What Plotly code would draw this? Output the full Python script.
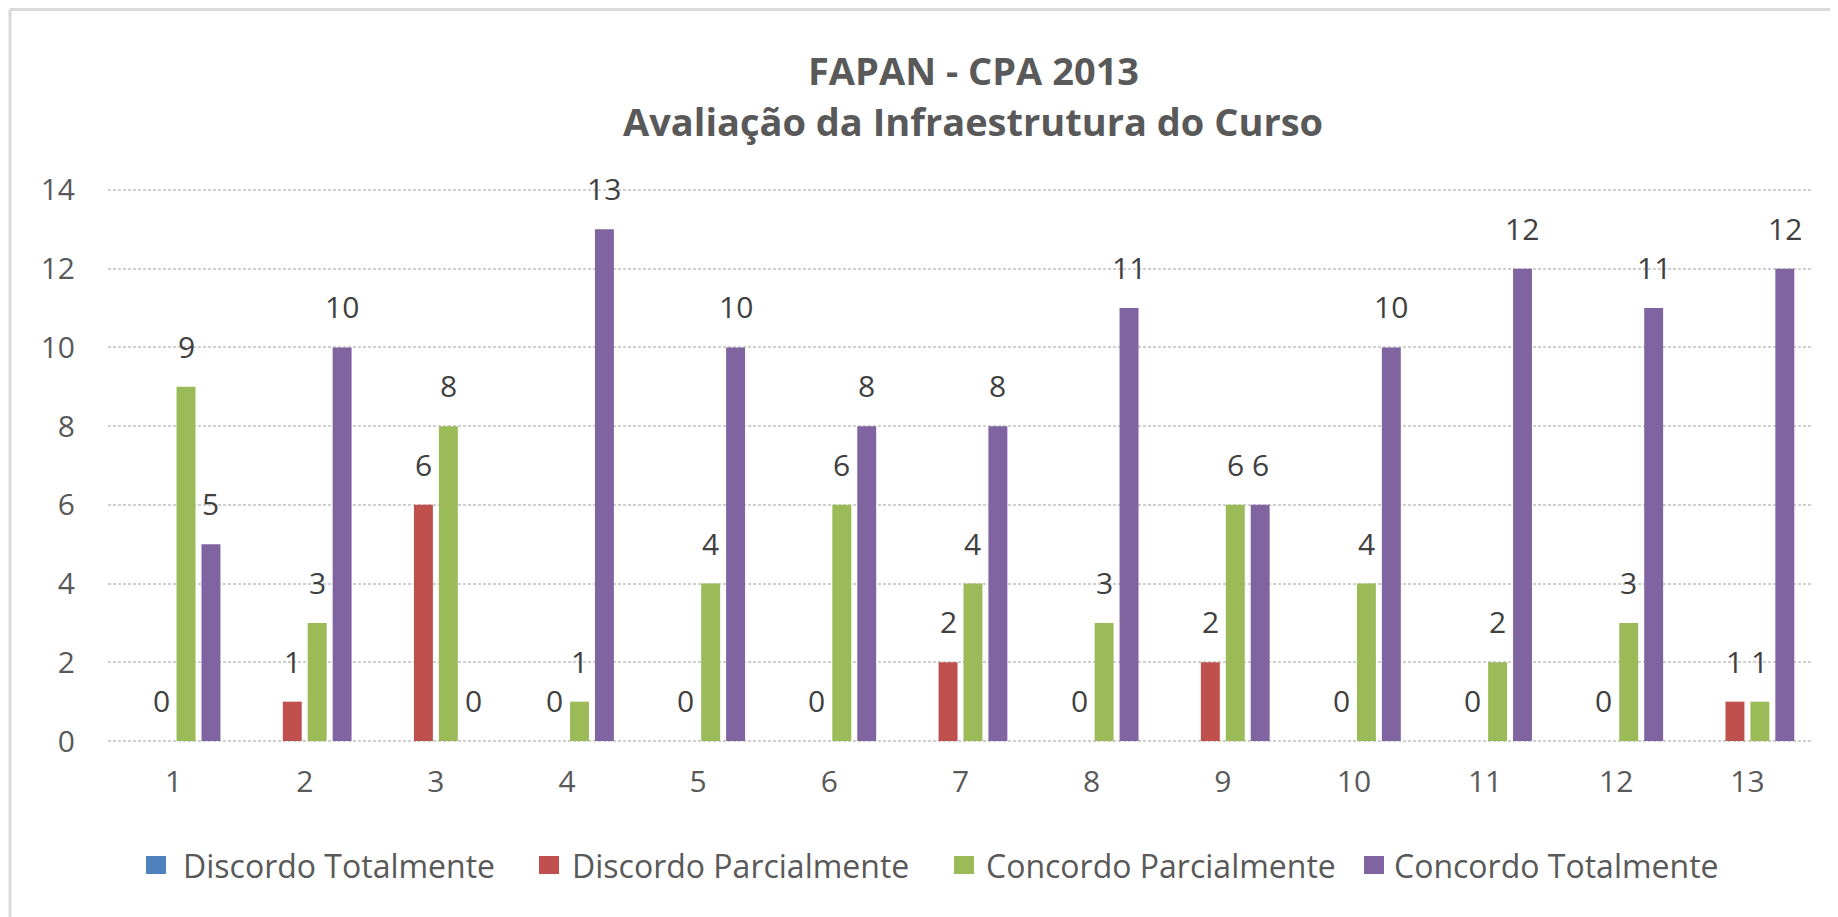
import plotly.graph_objects as go

# ---------------- data ----------------
categories = [1, 2, 3, 4, 5, 6, 7, 8, 9, 10, 11, 12, 13]
series_names = ["Discordo Totalmente", "Discordo Parcialmente",
                "Concordo Parcialmente", "Concordo Totalmente"]
discordo_totalmente = [0, 0, 0, 0, 0, 0, 0, 0, 0, 0, 0, 0, 0]
discordo_parcialmente = [0, 1, 6, 0, 0, 0, 2, 0, 2, 0, 0, 0, 1]
concordo_parcialmente = [9, 3, 8, 1, 4, 6, 4, 3, 6, 4, 2, 3, 1]
concordo_totalmente = [5, 10, 0, 13, 10, 8, 8, 11, 6, 10, 12, 11, 12]
show_labels = [False, True, True, True]
title_line1 = "FAPAN - CPA 2013"
title_line2 = "Avaliação da Infraestrutura do Curso"
y_ticks = [0, 2, 4, 6, 8, 10, 12, 14]

# ---------------- style ----------------
colors = ["#4F81BD", "#C0504D", "#9BBB59", "#8064A2"]
FONT = "Open Sans"
TXT = "#595959"
LBL = "#404040"
W, H = 1838, 917
OFF = 8  # default page body margin: figure origin sits at (8, 8) on the page
# plot area in page pixels
P_LEFT, P_RIGHT, P_TOP, P_BOTTOM = 108, 1813, 190, 741
YMAX = 14
EXT = 0.05  # small range extension so gridlines at 0 and 14 are drawn
ppu = (P_BOTTOM - P_TOP) / YMAX
ML = P_LEFT - OFF
MR = W - (P_RIGHT - OFF)
MT = round(P_TOP - OFF - EXT * ppu)
MB = round(H - (P_BOTTOM - OFF + EXT * ppu))
PW, PH = W - ML - MR, H - MT - MB
BARGAP, GROUPGAP = 0.24, 0.24


def px(x):
    """page x pixel -> paper coord"""
    return (x - OFF - ML) / PW


def py(y):
    """page y pixel -> paper coord"""
    return (H - MB - (y - OFF)) / PH


all_series = [discordo_totalmente, discordo_parcialmente,
              concordo_parcialmente, concordo_totalmente]

fig = go.Figure()
for name, vals, col in zip(series_names, all_series, colors):
    fig.add_trace(go.Bar(x=categories, y=vals, name=name,
                         marker=dict(color=col, line=dict(width=0)),
                         showlegend=False))

annotations = []
n = len(all_series)
slot = (1 - BARGAP) / n
for k, (vals, show) in enumerate(zip(all_series, show_labels)):
    if not show:
        continue
    off = (k - (n - 1) / 2) * slot
    for c, v in zip(categories, vals):
        annotations.append(dict(
            x=c + off, y=v, xref="x", yref="y", text=str(v),
            showarrow=False, yanchor="bottom", xanchor="center",
            yshift=19, borderpad=0,
            font=dict(family=FONT, size=30, color=LBL)))

# title (two lines)
annotations.append(dict(
    x=px(973), y=py(70), xref="paper", yref="paper",
    text="<b>" + title_line1 + "</b>", showarrow=False,
    xanchor="center", yanchor="middle",
    font=dict(family=FONT, size=38, color=TXT)))
annotations.append(dict(
    x=px(973), y=py(121), xref="paper", yref="paper",
    text="<b>" + title_line2 + "</b>", showarrow=False,
    xanchor="center", yanchor="middle",
    font=dict(family=FONT, size=38, color=TXT)))

# legend (drawn manually to get the large square swatches)
leg_marker_x = [156, 549, 964, 1374]
leg_text_x = [181, 570, 984, 1392]
leg_y = 865
shapes = []
for name, col, mx, tx in zip(series_names, colors, leg_marker_x, leg_text_x):
    shapes.append(dict(type="rect", xref="paper", yref="paper",
                       x0=px(mx - 10), x1=px(mx + 10),
                       y0=py(leg_y + 9), y1=py(leg_y - 9),
                       fillcolor=col, line=dict(width=0)))
    annotations.append(dict(x=px(tx), y=py(leg_y), xref="paper", yref="paper",
                            text=name, showarrow=False, xanchor="left",
                            yanchor="middle",
                            font=dict(family=FONT, size=32, color=TXT)))

# chart border (left and top edges visible)
shapes.append(dict(type="line", xref="paper", yref="paper",
                   x0=px(10), x1=px(10), y0=py(9.5), y1=py(H + 20),
                   line=dict(color="#D9D9D9", width=3)))
shapes.append(dict(type="line", xref="paper", yref="paper",
                   x0=px(10), x1=px(W + 20), y0=py(9.5), y1=py(9.5),
                   line=dict(color="#D9D9D9", width=3)))

fig.update_layout(
    width=W, height=H,
    margin=dict(l=ML, r=MR, t=MT, b=MB),
    paper_bgcolor="white", plot_bgcolor="white",
    barmode="group", bargap=BARGAP, bargroupgap=GROUPGAP,
    annotations=annotations, shapes=shapes,
    showlegend=False,
    font=dict(family=FONT, color=TXT),
)
fig.update_xaxes(range=[0.5, 13.5], tickvals=categories,
                 ticktext=[str(c) for c in categories],
                 showgrid=False, zeroline=False, showline=False, ticks="",
                 ticklabelstandoff=18,
                 tickfont=dict(family=FONT, size=30, color=TXT))
fig.update_yaxes(range=[-EXT, YMAX + EXT], tickvals=y_ticks, showgrid=True,
                 gridcolor="#CFCFCF", gridwidth=2, griddash="3px,2px",
                 zeroline=False, showline=False, ticks="",
                 ticklabelstandoff=32,
                 tickfont=dict(family=FONT, size=30, color=TXT))

fig.write_html("out.html")
